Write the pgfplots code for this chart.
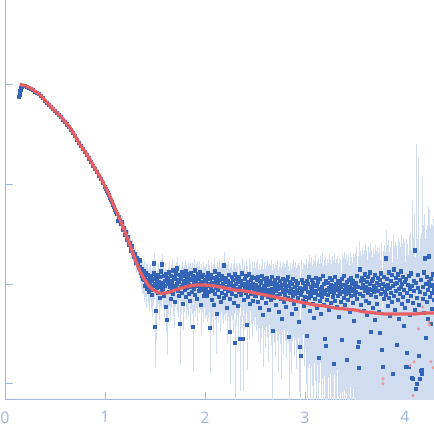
\documentclass[border=0pt]{standalone}
\usepackage{fontspec}
\setmainfont{Open Sans}
\usepackage{pgfplots}
\usepackage{pgfplotstable}
\pgfplotsset{compat=1.18}
\definecolor{axc}{RGB}{160,182,222}
\definecolor{ptc}{RGB}{52,100,184}
\definecolor{ebc}{RGB}{208,220,240}
\definecolor{fitc}{RGB}{233,96,100}
\definecolor{pkc}{RGB}{240,150,150}

\pgfplotstableread{
x y r
0.140 -0.12 .02
0.145 -0.095 .02
0.150 -0.065 .02
0.155 -0.045 .02
0.160 -0.03 .02
0.170 -0.02 .02
0.180 -0.012 .02
0.190 -0.010 .02
0.200 -0.012 .02
0.22 -0.02 .02
0.24 -0.028 .02
0.26 -0.038 .02
0.28 -0.05 .02
0.30 -0.066 .02
0.32 -0.08 .02
0.34 -0.094 .02
0.36 -0.112 .02
0.38 -0.133 .02
0.40 -0.156 .02
0.42 -0.178 .02
0.44 -0.20 .02
0.46 -0.222 .02
0.48 -0.242 .02
0.50 -0.262 .02
0.52 -0.282 .02
0.54 -0.302 .02
0.56 -0.324 .02
0.58 -0.348 .02
0.60 -0.372 .02
0.62 -0.396 .02
0.64 -0.42 .02
0.66 -0.448 .02
0.68 -0.48 .02
0.70 -0.512 .02
0.72 -0.548 .02
0.74 -0.584 .02
0.76 -0.615 .02
0.78 -0.645 .02
0.80 -0.672 .03
0.82 -0.705 .03
0.84 -0.737 .03
0.86 -0.772 .03
0.88 -0.808 .03
0.90 -0.845 .03
0.92 -0.876 .04
0.94 -0.91 .04
0.96 -0.945 .04
0.98 -0.985 .04
1.00 -1.025 .05
1.01 -1.04 .05
1.02 -1.065 .05
1.03 -1.08 .05
1.04 -1.10 .06
1.05 -1.13 .06
1.06 -1.15 .06
1.07 -1.17 .07
1.08 -1.20 .07
1.09 -1.22 .08
1.10 -1.25 .08
1.11 -1.27 .09
1.12 -1.29 .1
1.13 -1.36 .1
1.14 -1.32 .1
1.15 -1.36 .11
1.16 -1.39 .12
1.17 -1.37 .12
1.18 -1.45 .13
1.19 -1.43 .13
1.20 -1.50 .14
1.21 -1.47 .14
1.22 -1.55 .15
1.23 -1.52 .15
1.24 -1.60 .16
1.25 -1.58 .17
1.26 -1.66 .18
1.27 -1.62 .18
1.28 -1.68 .2
1.29 -1.72 .2
1.30 -1.70 .2
1.31 -1.78 .22
1.32 -1.74 .22
1.33 -1.80 .22
1.34 -1.83 .22
1.345 -1.76 .22
1.350 -1.83 .22
1.355 -1.88 .22
1.360 -1.86 .22
1.365 -1.92 .25
1.370 -1.85 .22
1.375 -1.95 .28
1.380 -1.90 .25
1.385 -1.96 .28
1.390 -1.87 .25
1.395 -2.02 .3
1.400 -1.93 .28
1.405 -1.99 .28
1.410 -1.89 .25
1.415 -2.05 .35
1.420 -1.96 .28
1.425 -1.91 .28
1.430 -2.03 .3
1.435 -1.97 .28
1.440 -2.08 .35
1.445 -1.94 .28
1.450 -2.01 .3
1.455 -1.92 .28
1.460 -2.06 .35
1.465 -1.97 .3
1.470 -2.11 .4
1.475 -1.95 .3
1.480 -2.02 .35
1.485 -1.89 .28
1.490 -1.79 .25
1.495 -2.00 .3
1.500 -2.43 .6
1.505 -1.94 .3
1.510 -2.27 .5
1.515 -2.04 .35
1.520 -1.96 .3
1.525 -2.09 .4
1.530 -1.91 .28
1.535 -2.01 .35
1.540 -1.98 .3
1.545 -2.14 .4
1.550 -1.93 .3
1.555 -2.03 .35
1.560 -1.87 .28
1.565 -2.07 .35
1.570 -1.80 .25
1.575 -1.99 .3
1.580 -2.05 .35
1.585 -1.92 .3
1.590 -2.12 .4
1.595 -1.97 .3
1.600 -2.02 .35
1.605 -1.90 .28
1.610 -2.23 .45
1.615 -1.96 .3
1.620 -2.36 .55
1.625 -2.00 .35
1.630 -1.94 .3
1.635 -2.08 .4
1.640 -1.88 .28
1.645 -2.03 .35
1.650 -1.97 .3
1.655 -2.15 .4
1.660 -1.92 .3
1.665 -2.05 .35
1.670 -1.99 .35
1.675 -1.86 .28
1.680 -2.10 .4
1.685 -1.95 .3
1.690 -2.02 .35
1.695 -2.18 .45
1.700 -1.93 .3
1.705 -2.04 .35
1.710 -1.89 .3
1.715 -2.00 .35
1.720 -1.84 .28
1.725 -2.07 .4
1.730 -1.96 .3
1.735 -2.12 .4
1.740 -1.98 .35
1.745 -1.91 .3
1.750 -2.40 .6
1.755 -2.03 .35
1.760 -1.95 .3
1.765 -2.09 .4
1.770 -1.88 .3
1.775 -2.01 .35
1.780 -2.20 .45
1.785 -1.97 .35
1.790 -1.92 .3
1.795 -2.06 .4
1.800 -1.99 .35
1.805 -1.87 .3
1.810 -2.13 .4
1.815 -1.94 .35
1.820 -2.04 .4
1.825 -1.98 .35
1.830 -1.90 .3
1.835 -2.10 .4
1.840 -2.01 .35
1.845 -1.95 .35
1.850 -2.17 .45
1.855 -1.89 .3
1.860 -2.03 .4
1.865 -1.96 .35
1.870 -2.08 .4
1.875 -1.92 .35
1.880 -2.43 .65
1.885 -1.99 .35
1.890 -2.05 .4
1.895 -1.86 .3
1.900 -2.11 .4
1.905 -1.97 .35
1.910 -1.93 .35
1.915 -2.02 .4
1.920 -2.15 .45
1.925 -1.90 .35
1.930 -2.00 .4
1.935 -1.95 .35
1.940 -2.07 .4
1.945 -1.88 .3
1.950 -2.04 .4
1.955 -1.98 .35
1.960 -2.21 .5
1.965 -1.93 .35
1.970 -2.06 .4
1.975 -1.99 .4
1.980 -1.91 .35
1.985 -2.12 .45
1.990 -2.02 .4
1.995 -1.96 .35
2.000 -2.09 .45
2.005 -1.97 .4
2.010 -2.05 .45
2.015 -1.93 .35
2.020 -2.12 .45
2.025 -2.00 .4
2.030 -1.89 .35
2.035 -2.08 .45
2.040 -2.02 .45
2.045 -1.95 .4
2.050 -2.44 .65
2.055 -2.04 .45
2.060 -1.91 .35
2.065 -2.16 .45
2.070 -1.99 .4
2.075 -2.07 .45
2.080 -1.94 .4
2.085 -2.21 .5
2.090 -2.01 .45
2.095 -1.87 .35
2.100 -2.10 .45
2.105 -1.97 .4
2.110 -2.04 .45
2.115 -2.30 .6
2.120 -1.93 .4
2.125 -2.06 .45
2.130 -1.99 .45
2.135 -2.13 .45
2.140 -1.90 .35
2.145 -2.03 .45
2.150 -1.96 .4
2.155 -2.18 .5
2.160 -2.02 .45
2.165 -1.92 .4
2.170 -2.09 .45
2.175 -2.00 .45
2.180 -1.95 .4
2.185 -2.14 .45
2.190 -1.81 .35
2.195 -2.05 .45
2.200 -1.98 .45
2.205 -2.11 .45
2.210 -1.94 .4
2.215 -2.03 .45
2.220 -2.24 .55
2.225 -1.97 .45
2.230 -2.07 .45
2.235 -1.91 .4
2.240 -2.01 .45
2.245 -2.15 .5
2.250 -2.48 .7
2.255 -1.99 .45
2.260 -2.06 .45
2.265 -1.93 .4
2.270 -2.10 .45
2.275 -2.02 .45
2.280 -1.96 .45
2.285 -2.19 .5
2.290 -2.04 .45
2.295 -1.90 .4
2.300 -2.59 .75
2.305 -2.00 .45
2.310 -2.12 .5
2.315 -1.95 .45
2.320 -2.05 .45
2.325 -1.98 .45
2.330 -2.22 .55
2.335 -2.08 .45
2.340 -1.93 .4
2.345 -2.03 .45
2.350 -2.55 .7
2.355 -1.97 .45
2.360 -2.11 .5
2.365 -2.01 .45
2.370 -1.89 .4
2.375 -2.07 .45
2.380 -2.55 .7
2.385 -2.00 .45
2.390 -2.16 .5
2.395 -1.95 .45
2.400 -2.04 .45
2.405 -2.09 .5
2.410 -1.92 .45
2.415 -2.02 .45
2.420 -2.41 .65
2.425 -1.98 .45
2.430 -2.13 .5
2.435 -2.05 .45
2.440 -1.90 .45
2.445 -2.20 .55
2.450 -2.01 .45
2.455 -1.96 .45
2.460 -2.10 .5
2.465 -2.04 .45
2.470 -1.93 .45
2.475 -2.17 .55
2.480 -2.00 .45
2.485 -2.07 .5
2.490 -1.94 .45
2.495 -2.12 .5
2.500 -2.03 .5
2.505 -2.01 .5
2.510 -2.12 .55
2.515 -1.96 .5
2.520 -2.06 .55
2.525 -1.93 .5
2.530 -2.18 .6
2.535 -2.03 .5
2.540 -2.09 .55
2.545 -1.97 .5
2.550 -2.24 .65
2.555 -2.05 .55
2.560 -1.99 .5
2.565 -2.14 .6
2.570 -1.92 .5
2.575 -2.07 .55
2.580 -2.31 .7
2.585 -2.02 .5
2.590 -1.95 .5
2.595 -2.11 .55
2.600 -2.04 .55
2.605 -2.19 .65
2.610 -1.98 .5
2.615 -2.08 .55
2.620 -1.94 .5
2.625 -2.13 .6
2.630 -2.01 .55
2.635 -2.26 .7
2.640 -2.06 .55
2.645 -1.97 .5
2.650 -2.10 .6
2.655 -2.00 .55
2.660 -2.16 .65
2.665 -1.93 .5
2.670 -2.05 .55
2.675 -2.47 .85
2.680 -2.09 .6
2.685 -1.99 .55
2.690 -2.14 .65
2.695 -2.03 .55
2.700 -1.96 .5
2.705 -2.21 .7
2.710 -2.07 .6
2.715 -2.00 .55
2.720 -2.12 .65
2.725 -1.94 .5
2.730 -2.05 .55
2.735 -2.28 .75
2.740 -2.02 .55
2.745 -2.10 .6
2.750 -1.97 .55
2.755 -2.15 .65
2.760 -2.04 .6
2.765 -2.35 .75
2.770 -2.01 .55
2.775 -2.08 .6
2.780 -1.95 .5
2.785 -2.18 .7
2.790 -2.06 .6
2.795 -1.99 .55
2.800 -2.11 .65
2.805 -2.03 .6
2.810 -2.23 .7
2.815 -1.96 .55
2.820 -2.07 .6
2.825 -1.93 .5
2.830 -2.14 .65
2.835 -2.02 .6
2.840 -2.53 .85
2.845 -2.09 .65
2.850 -1.98 .55
2.855 -2.16 .7
2.860 -2.05 .6
2.865 -2.30 .75
2.870 -2.00 .6
2.875 -2.12 .65
2.880 -1.95 .55
2.885 -2.08 .65
2.890 -2.20 .7
2.895 -2.03 .6
2.900 -2.10 .65
2.905 -1.97 .55
2.910 -2.25 .75
2.915 -2.06 .65
2.920 -2.01 .6
2.925 -2.14 .7
2.930 -1.99 .6
2.935 -2.09 .65
2.940 -2.38 .8
2.945 -2.04 .65
2.950 -2.63 .9
2.955 -2.72 1.0
2.960 -2.11 .7
2.965 -1.96 .6
2.970 -2.07 .65
2.975 -2.17 .7
2.980 -1.99 .6
2.985 -2.05 .65
2.990 -2.22 .75
2.995 -2.02 .65
3.000 -2.13 .7
3.005 -2.04 .7
3.010 -2.18 .85
3.015 -1.97 .65
3.020 -2.52 1.0
3.025 -2.08 .75
3.030 -2.00 .7
3.035 -2.14 .8
3.040 -1.93 .65
3.045 -2.10 .8
3.050 -2.27 .9
3.055 -2.03 .75
3.060 -2.12 .8
3.065 -1.96 .7
3.070 -2.06 .75
3.075 -2.20 .85
3.080 -1.99 .7
3.085 -2.34 .95
3.090 -2.09 .8
3.095 -2.02 .75
3.100 -2.15 .85
3.105 -1.94 .7
3.110 -2.07 .8
3.115 -2.24 .9
3.120 -2.01 .75
3.125 -2.11 .8
3.130 -1.98 .75
3.135 -2.74 1.2
3.140 -2.05 .8
3.145 -2.17 .85
3.150 -1.95 .7
3.155 -2.09 .8
3.160 -2.30 .95
3.165 -2.03 .75
3.170 -2.13 .85
3.175 -1.92 .7
3.180 -2.07 .8
3.185 -2.21 .9
3.190 -2.00 .75
3.195 -2.10 .85
3.200 -2.55 1.05
3.205 -1.97 .75
3.210 -2.62 1.1
3.215 -2.06 .8
3.220 -2.16 .9
3.225 -1.99 .75
3.230 -2.11 .85
3.235 -2.04 .8
3.240 -2.26 .95
3.245 -1.94 .7
3.250 -2.08 .85
3.255 -2.01 .8
3.260 -2.19 .9
3.265 -2.05 .8
3.270 -1.96 .75
3.275 -2.13 .9
3.280 -2.02 .8
3.285 -2.80 1.2
3.290 -2.09 .85
3.295 -1.93 .75
3.300 -2.17 .9
3.305 -2.06 .85
3.310 -2.00 .8
3.315 -2.23 .95
3.320 -2.04 .85
3.325 -1.97 .8
3.330 -2.12 .9
3.335 -2.07 .85
3.340 -2.33 1.0
3.345 -1.99 .8
3.350 -2.10 .9
3.355 -2.03 .85
3.360 -2.18 .95
3.365 -2.56 1.1
3.370 -1.95 .8
3.375 -2.08 .9
3.380 -2.01 .85
3.385 -2.14 .95
3.390 -1.92 .75
3.395 -2.06 .9
3.400 -2.21 1.0
3.405 -2.02 .85
3.410 -2.10 .9
3.415 -1.98 .85
3.420 -2.76 1.2
3.425 -2.05 .9
3.430 -2.16 .95
3.435 -1.96 .8
3.440 -2.09 .9
3.445 -2.28 1.05
3.450 -2.03 .9
3.455 -1.94 .8
3.460 -2.12 .95
3.465 -2.00 .85
3.470 -2.07 .9
3.475 -2.19 1.0
3.480 -1.97 .85
3.485 -2.05 .9
3.490 -2.37 1.1
3.495 -2.01 .9
3.500 -2.11 .95
3.505 -1.99 1.0
3.510 -2.08 1.1
3.515 -1.92 .95
3.520 -2.15 1.15
3.525 -2.63 1.4
3.530 -2.03 1.05
3.535 -2.84 1.5
3.540 -2.58 1.35
3.545 -1.85 .9
3.550 -2.10 1.1
3.555 -1.97 1.0
3.560 -2.21 1.2
3.565 -2.04 1.1
3.570 -1.94 1.0
3.575 -2.12 1.15
3.580 -2.01 1.05
3.585 -2.27 1.25
3.590 -1.96 1.0
3.595 -2.07 1.1
3.600 -1.90 .95
3.605 -2.17 1.2
3.610 -2.03 1.1
3.615 -1.98 1.05
3.620 -2.31 1.3
3.625 -2.09 1.15
3.630 -1.93 1.0
3.635 -2.05 1.1
3.640 -2.19 1.2
3.645 -2.00 1.1
3.650 -1.88 .95
3.655 -2.48 1.4
3.660 -2.11 1.15
3.665 -1.97 1.05
3.670 -2.06 1.15
3.675 -2.24 1.25
3.680 -1.95 1.05
3.685 -2.08 1.15
3.690 -2.02 1.1
3.695 -2.36 1.35
3.700 -1.91 1.0
3.705 -2.13 1.2
3.710 -2.04 1.15
3.715 -1.99 1.1
3.720 -2.20 1.25
3.725 -1.94 1.05
3.730 -2.07 1.15
3.735 -2.01 1.1
3.740 -2.28 1.3
3.745 -1.96 1.1
3.750 -2.49 1.45
3.755 -2.10 1.2
3.760 -1.89 1.0
3.765 -2.05 1.15
3.770 -2.66 1.6
3.775 -2.83 1.8
3.780 -2.00 1.15
3.785 -2.15 1.25
3.790 -1.93 1.1
3.795 -2.08 1.2
3.800 -2.02 1.2
3.805 -2.11 1.3
3.810 -1.74 .9
3.815 -2.05 1.3
3.820 -1.95 1.2
3.825 -2.22 1.5
3.830 -2.01 1.3
3.835 -1.88 1.1
3.840 -2.14 1.4
3.845 -2.04 1.3
3.850 -2.32 1.7
3.855 -1.97 1.2
3.860 -2.09 1.4
3.865 -1.91 1.2
3.870 -2.18 1.5
3.875 -2.90 2.5
3.880 -2.02 1.3
3.885 -1.85 1.2
3.890 -2.12 1.5
3.895 -2.00 1.4
3.900 -2.26 1.7
3.905 -1.94 1.3
3.910 -2.07 1.5
3.915 -1.99 1.4
3.920 -2.61 2.2
3.925 -2.16 1.6
3.930 -1.90 1.3
3.935 -2.05 1.5
3.940 -2.35 1.9
3.945 -1.96 1.4
3.950 -2.10 1.6
3.955 -2.03 1.5
3.960 -1.87 1.3
3.965 -2.20 1.8
3.970 -2.00 1.5
3.975 -2.13 1.7
3.980 -1.93 1.4
3.985 -2.42 2.1
3.990 -2.06 1.6
3.995 -1.98 1.5
4.000 -2.24 1.9
4.005 -2.83 3.0
4.010 -1.95 1.5
4.015 -2.69 2.6
4.020 -2.09 1.7
4.025 -2.01 1.6
4.030 -2.17 1.9
4.035 -2.83 3.0
4.040 -1.92 1.5
4.045 -2.31 2.1
4.050 -2.05 1.8
4.055 -1.89 1.5
4.060 -2.12 1.9
4.065 -2.94 3.5
4.070 -2.02 6.1
4.075 -2.95 3.5
4.080 -2.19 2.1
4.085 -1.97 1.8
4.090 -2.07 2.0
4.095 -1.66 1.3
4.100 -2.26 2.4
4.105 -3.05 9.0
4.110 -1.99 1.9
4.115 -2.14 34
4.120 -3.00 6.0
4.125 -2.04 2.1
4.130 -1.91 13.8
4.135 -2.72 4.0
4.140 -2.21 2.5
4.145 -2.95 8.0
4.150 -2.08 2.3
4.155 -2.87 20
4.160 -1.96 2.0
4.165 -2.90 5.0
4.170 -2.86 12
4.175 -2.15 15.6
4.180 -2.03 2.4
4.185 -1.88 2.0
4.190 -2.29 3.0
4.195 -1.74 1.8
4.200 -2.10 2.6
4.205 -2.54 4.0
4.210 -2.00 2.5
4.215 -2.18 3.0
4.220 -1.93 2.3
4.225 -2.35 3.5
4.230 -2.06 5.8
4.235 -1.98 2.6
4.240 -1.72 2.0
4.245 -2.13 3.0
4.250 -2.02 2.8
4.255 -2.40 4.0
4.260 -1.95 2.6
4.265 -2.09 3.0
4.270 -2.25 3.5
4.275 -2.01 2.9
4.280 -1.90 2.6
4.285 -2.16 3.2
4.290 -2.05 3.0
}\data

\pgfplotstableread{
x y
0.15 0.005
0.20 -0.01
0.25 -0.03
0.30 -0.065
0.35 -0.10
0.40 -0.155
0.45 -0.21
0.50 -0.26
0.55 -0.31
0.60 -0.37
0.65 -0.43
0.70 -0.51
0.75 -0.60
0.80 -0.67
0.85 -0.75
0.90 -0.84
0.95 -0.92
1.00 -1.02
1.05 -1.12
1.10 -1.24
1.15 -1.35
1.20 -1.48
1.25 -1.61
1.30 -1.75
1.35 -1.87
1.40 -1.96
1.45 -2.03
1.50 -2.07
1.55 -2.09
1.60 -2.09
1.65 -2.08
1.70 -2.06
1.80 -2.03
1.90 -2.01
2.00 -2.01
2.10 -2.02
2.20 -2.04
2.30 -2.06
2.40 -2.07
2.50 -2.09
2.60 -2.11
2.70 -2.13
2.80 -2.15
2.90 -2.17
3.00 -2.19
3.10 -2.21
3.20 -2.22
3.30 -2.24
3.40 -2.25
3.50 -2.26
3.60 -2.28
3.70 -2.29
3.80 -2.30
3.90 -2.30
4.00 -2.30
4.10 -2.30
4.20 -2.29
4.29 -2.29
}\fit

\pgfplotstableread{
x y
3.78 -2.95
3.78 -3.00
4.05 -2.82
4.09 -2.78
4.08 -3.12
4.135 -2.45
4.18 -2.23
4.24 -2.38
4.245 -2.41
4.26 -2.78
4.28 -2.84
}\pink

\begin{document}
\begin{tikzpicture}
\useasboundingbox (0,0) rectangle (434bp,438bp);
\begin{axis}[
  at={(5bp,38bp)}, anchor=south west,
  scale only axis, width=429bp, height=400bp,
  xmin=0, xmax=4.29, ymin=-3.163, ymax=0.85,
  axis x line=bottom, axis y line=left,
  axis line style={axc, line width=1bp, -},
  xtick={0,1,2,3,4}, ytick={0,-1,-2,-3}, yticklabels={},
  tick align=inside, major tick length=8bp,
  tick style={axc, line width=1bp},
  xticklabel style={font=\fontsize{16}{16}\selectfont, text=axc, yshift=-8bp},
  /pgf/number format/assume math mode=true,
  clip=true, clip marker paths=true,
]
\addplot[forget plot, draw=none, mark=none,
  error bars/.cd, y dir=both, y explicit, error mark=none,
  error bar style={ebc, line width=0.8bp, solid}]
  table[x=x, y=y,
    y error plus expr={log10(1+\thisrow{r})},
    y error minus expr={-log10(max(1-\thisrow{r},0.0001))}] {\data};
\addplot[only marks, mark=square*, mark size=1.55bp, ptc, mark options={draw=ptc, fill=ptc, line width=0.3bp}] table[x=x, y=y] {\data};
\addplot[only marks, mark=*, mark size=1.3bp, pkc, mark options={draw=pkc, fill=pkc}] table[x=x, y=y] {\pink};
\addplot[fitc, line width=3.2bp, smooth, mark=none] table[x=x, y=y] {\fit};
\end{axis}
\end{tikzpicture}
\end{document}
